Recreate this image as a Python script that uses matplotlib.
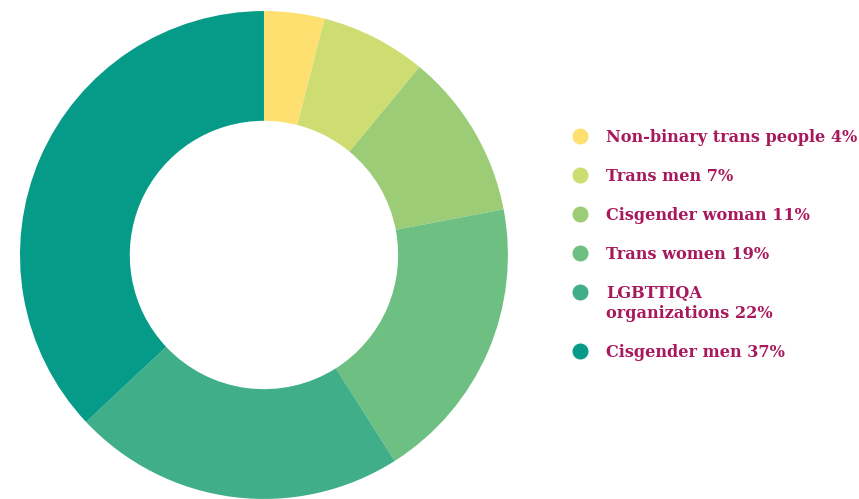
import matplotlib.pyplot as plt

categories = ["Non-binary trans people", "Trans men", "Cisgender woman",
              "Trans women", "LGBTTIQA\norganizations", "Cisgender men"]
shares = [4, 7, 11, 19, 22, 37]
colors = ["#FDE070", "#CDDD72", "#9CCC76", "#6DBF82", "#40AE88", "#069B88"]

text_color = "#A8185C"

fig = plt.figure(figsize=(8.59, 4.99), dpi=100)
ax = fig.add_axes([0.0233, 0.0, 0.568, 0.978])
ax.pie(shares, colors=colors, startangle=90, counterclock=False, radius=1,
       wedgeprops=dict(width=0.45, linewidth=0))
ax.set_xlim(-1, 1)
ax.set_ylim(-1, 1)
ax.set_aspect("equal")
ax.axis("off")

# legend drawn by hand so the two-line entry keeps the marker on its first line
y = 1 - 136 / 499
for cat, val, col in zip(categories, shares, colors):
    fig.text(606 / 859, y + 7 / 499, f"{cat} {val}%", color=text_color,
             fontsize=11.6, fontweight="bold", family="DejaVu Serif",
             va="top", linespacing=1.2)
    fig.lines.append(plt.Line2D([580 / 859], [y], marker="o",
                                markersize=10.5, color=col, linestyle="none",
                                transform=fig.transFigure))
    nl = cat.count("\n")
    y -= (39 + 20 * nl) / 499

fig.savefig("out.png", dpi=100)
